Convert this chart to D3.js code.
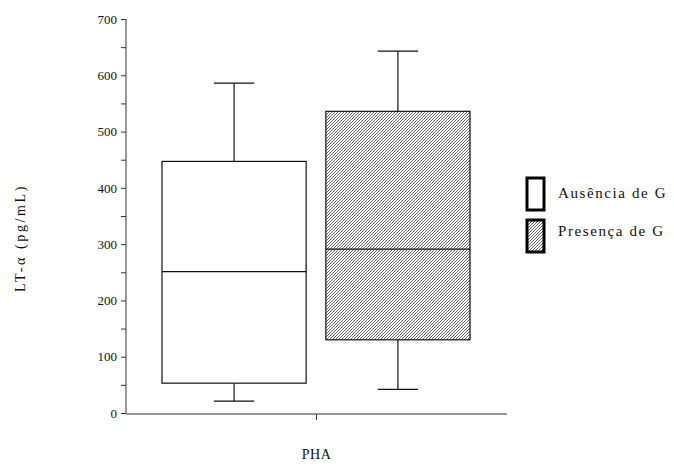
<!DOCTYPE html>
<html>
<head>
<meta charset="utf-8">
<script src="https://cdn.jsdelivr.net/npm/d3@7"></script>
<style>
  body { margin: 0; background: #fff; }
  svg text { font-family: "Liberation Serif", "Times New Roman", serif; }
</style>
</head>
<body>
<div id="chart"></div>
<script>
// data
var categories = ["PHA"];
var groups = ["Ausência de G", "Presença de G"];
var whiskerLow  = [21, 42];
var q1          = [53, 130];
var medians     = [251, 291];
var q3          = [447, 536];
var whiskerHigh = [586, 643];
var yTicks = [0, 100, 200, 300, 400, 500, 600, 700];

var width = 674, height = 466;
var margin = { left: 126, right: 167, top: 19, bottom: 53 };
var serif = "Liberation Serif";

var svg = d3.select("#chart").append("svg")
    .attr("width", width)
    .attr("height", height);

// diagonal hatch like the old stats package
var pat = svg.append("defs").append("pattern")
    .attr("id", "hatch")
    .attr("patternUnits", "userSpaceOnUse")
    .attr("width", 3)
    .attr("height", 3);
pat.append("rect").attr("width", 3).attr("height", 3).attr("fill", "#fff");
pat.append("path")
    .attr("d", "M0,3L3,0M-1,1L1,-1M2,4L4,2")
    .attr("stroke", "#333")
    .attr("stroke-width", 0.75);

var y = d3.scaleLinear()
    .domain([0, 700])
    .range([height - margin.bottom, margin.top]);

var x = d3.scaleBand()
    .domain(categories)
    .range([margin.left, width - margin.right]);

var xInner = d3.scaleBand()
    .domain(groups)
    .range([x("PHA") + 36, x("PHA") + x.bandwidth() - 37])
    .paddingInner(0.12);

var data = groups.map(function (g, i) {
    return { name: g, lo: whiskerLow[i], q1: q1[i], med: medians[i], q3: q3[i], hi: whiskerHigh[i],
             fill: i === 0 ? "#fff" : "url(#hatch)" };
});

// y axis, minor ticks every 50
var yAxis = d3.axisLeft(y)
    .tickValues(d3.range(0, 701, 50))
    .tickSize(5)
    .tickPadding(4)
    .tickFormat(function (d) { return yTicks.indexOf(d) >= 0 ? d : ""; });

var gy = svg.append("g")
    .attr("transform", "translate(" + margin.left + ",0)")
    .attr("font-family", serif)
    .call(yAxis);
gy.attr("font-family", serif);
gy.select(".domain").attr("stroke", "#333").attr("d", "M0," + y(700) + "V" + y(0));
gy.selectAll(".tick line").attr("stroke", "#333");
gy.selectAll(".tick text")
    .attr("font-family", serif)
    .attr("font-size", 13).attr("fill", "#111");

// x axis
var xAxis = d3.axisBottom(x).tickSize(6).tickFormat("");
var gx = svg.append("g")
    .attr("transform", "translate(0," + (y(0) + 1) + ")")
    .call(xAxis);
gx.select(".domain").attr("stroke", "#333").attr("d", "M" + margin.left + ",0H" + (width - margin.right));
gx.selectAll(".tick line").attr("stroke", "#333");

svg.append("text")
    .attr("x", x("PHA") + x.bandwidth() / 2)
    .attr("y", 459)
    .attr("text-anchor", "middle")
    .attr("font-family", serif)
    .attr("font-size", 14)
    .attr("letter-spacing", 0.5)
    .attr("fill", "#111")
    .text(categories[0]);

svg.append("text")
    .attr("transform", "translate(25,238) rotate(-90)")
    .attr("text-anchor", "middle")
    .attr("font-family", serif)
    .attr("font-size", 14)
    .attr("letter-spacing", 2.6)
    .attr("fill", "#111")
    .text("LT-α (pg/mL)");

// boxes
var bw = xInner.bandwidth();
var box = svg.selectAll(".box")
    .data(data)
    .enter().append("g")
    .attr("class", "box");

box.append("line")
    .attr("x1", d => xInner(d.name) + bw / 2)
    .attr("x2", d => xInner(d.name) + bw / 2)
    .attr("y1", d => y(d.hi))
    .attr("y2", d => y(d.q3))
    .attr("stroke", "#111").attr("stroke-width", 1.2);
box.append("line")
    .attr("x1", d => xInner(d.name) + bw / 2)
    .attr("x2", d => xInner(d.name) + bw / 2)
    .attr("y1", d => y(d.q1))
    .attr("y2", d => y(d.lo))
    .attr("stroke", "#111").attr("stroke-width", 1.2);
["hi", "lo"].forEach(function (k) {
    box.append("line")
        .attr("x1", d => xInner(d.name) + bw / 2 - bw * 0.14)
        .attr("x2", d => xInner(d.name) + bw / 2 + bw * 0.14)
        .attr("y1", d => y(d[k]))
        .attr("y2", d => y(d[k]))
        .attr("stroke", "#111").attr("stroke-width", 1.2);
});
box.append("rect")
    .attr("x", d => xInner(d.name))
    .attr("y", d => y(d.q3))
    .attr("width", bw)
    .attr("height", d => y(d.q1) - y(d.q3))
    .attr("fill", d => d.fill)
    .attr("stroke", "#111").attr("stroke-width", 1.2);
box.append("line")
    .attr("x1", d => xInner(d.name))
    .attr("x2", d => xInner(d.name) + bw)
    .attr("y1", d => y(d.med))
    .attr("y2", d => y(d.med))
    .attr("stroke", "#111").attr("stroke-width", 1.2);

// legend
var legend = svg.append("g").attr("transform", "translate(527,178)");
var li = legend.selectAll("g")
    .data(data)
    .enter().append("g")
    .attr("transform", (d, i) => "translate(0," + i * 42 + ")");
li.append("rect")
    .attr("width", 17)
    .attr("height", 32)
    .attr("fill", d => d.fill)
    .attr("stroke", "#000")
    .attr("stroke-width", 3);
li.append("text")
    .attr("x", 31)
    .attr("y", (d, i) => i === 0 ? 20 : 16)
    .attr("font-family", serif)
    .attr("font-size", 15)
    .attr("letter-spacing", 1.6)
    .attr("fill", "#111")
    .text(d => d.name);
</script>
</body>
</html>
